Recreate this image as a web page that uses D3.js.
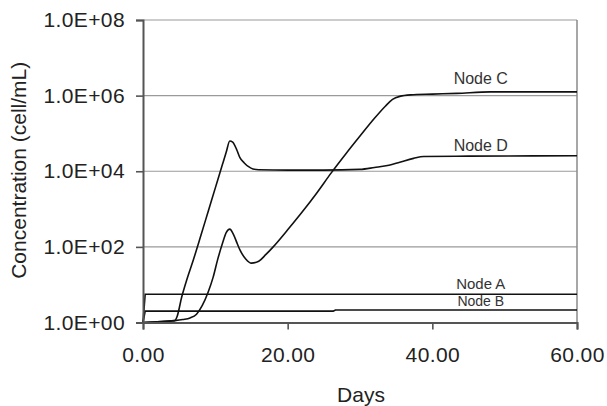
<!DOCTYPE html>
<html>
<head>
<meta charset="utf-8">
<script src="https://cdn.jsdelivr.net/npm/d3@7"></script>
<style>
  body { margin: 0; background: #fff; }
  svg { display: block; font-family: "Liberation Sans", Arial, sans-serif; }
</style>
</head>
<body>
<svg id="chart" width="607" height="406"></svg>
<script>
// ---- data (days, cell/mL) ----
const xTicks = [0, 20, 40, 60];
const yTicks = [1, 1e2, 1e4, 1e6, 1e8];

const nodeADays = [0, 0.3, 60];
const nodeAVals = [1, 5.6, 5.6];

const nodeBDays = [0, 0.3, 26.3, 26.6, 60];
const nodeBVals = [1, 2.0, 2.0, 2.15, 2.15];

const nodeCDays = [0, 4.4, 5.5, 6.5, 7.4, 8.2, 9.0, 9.7, 10.3, 11.0, 11.5, 12.0, 12.5, 13.0, 13.4, 14.2, 15.0, 16.0, 17.0, 18.0, 20, 22, 24, 26, 28, 30, 32, 33.5, 34.5, 35.5, 37, 40, 43.4, 48, 60];
const nodeCLog  = [0, 0.05, 0.08, 0.12, 0.22, 0.45, 0.8, 1.2, 1.65, 2.1, 2.38, 2.47, 2.33, 2.1, 1.92, 1.68, 1.57, 1.62, 1.8, 2.0, 2.45, 2.92, 3.42, 3.95, 4.45, 4.93, 5.4, 5.72, 5.9, 5.98, 6.02, 6.04, 6.06, 6.1, 6.1];

const nodeDDays = [0, 4.4, 4.7, 5.36, 6.0, 7.0, 8.0, 9.0, 10.0, 11.0, 11.5, 12.0, 12.4, 13.0, 13.4, 14.0, 14.6, 15.2, 16.0, 20, 25, 30, 32, 34, 35.5, 37.4, 38.8, 45, 60];
const nodeDLog  = [0, 0.05, 0.15, 0.68, 1.1, 1.68, 2.3, 2.93, 3.56, 4.19, 4.5, 4.8, 4.77, 4.55, 4.36, 4.22, 4.12, 4.06, 4.04, 4.03, 4.03, 4.05, 4.1, 4.16, 4.24, 4.34, 4.39, 4.4, 4.41];

const seriesNames = ["Node A", "Node B", "Node C", "Node D"];
const labelDay = 46.7;

// ---- layout ----
const svg = d3.select("#chart");
const margin = { left: 143, right: 30, top: 20, bottom: 83.5 };
const W = 607, H = 406;
const x = d3.scaleLinear().domain([0, 60]).range([margin.left, W - margin.right]);
const y = d3.scaleLog().domain([1, 1e8]).range([H - margin.bottom, margin.top]);

const toPts = (days, vals) => days.map((d, i) => [d, vals[i]]);
const series = [
  { name: "Node A", pts: toPts(nodeADays, nodeAVals), curve: d3.curveLinear, fs: 15, dy: -5 },
  { name: "Node B", pts: toPts(nodeBDays, nodeBVals), curve: d3.curveLinear, fs: 14, dy: -3.5 },
  { name: "Node C", pts: toPts(nodeCDays, nodeCLog.map(v => Math.pow(10, v))), curve: d3.curveMonotoneX, fs: 16, dy: -8 },
  { name: "Node D", pts: toPts(nodeDDays, nodeDLog.map(v => Math.pow(10, v))), curve: d3.curveMonotoneX, fs: 16, dy: -5 }
];

// gridlines
svg.append("g").selectAll("line").data(yTicks.slice(1)).join("line")
  .attr("x1", x(0)).attr("x2", x(60))
  .attr("y1", d => y(d)).attr("y2", d => y(d))
  .attr("stroke", "#9a9a9a").attr("stroke-width", 1.2);

// right border
svg.append("line")
  .attr("x1", x(60)).attr("x2", x(60)).attr("y1", y(1e8)).attr("y2", y(1))
  .attr("stroke", "#8a8a8a").attr("stroke-width", 1.5);

// series lines
const line = d3.line().x(d => x(d[0])).y(d => y(d[1]));
svg.append("g").selectAll("path").data(series).join("path")
  .attr("fill", "none").attr("stroke", "#111").attr("stroke-width", 1.6)
  .attr("d", s => line.curve(s.curve)(s.pts));

// axes
const fmtE = d => {
  const e = Math.round(Math.log10(d));
  const m = (d / Math.pow(10, e)).toFixed(1);
  return m + "E" + (e < 0 ? "-" : "+") + String(Math.abs(e)).padStart(2, "0");
};
const yAxis = svg.append("g").attr("transform", `translate(${x(0)},0)`)
  .call(d3.axisLeft(y).tickValues(yTicks).tickFormat(fmtE).tickSize(7).tickPadding(11));
const xAxis = svg.append("g").attr("transform", `translate(0,${y(1)})`)
  .call(d3.axisBottom(x).tickValues(xTicks).tickFormat(d3.format(".2f")).tickSize(7).tickPadding(18));

[yAxis, xAxis].forEach(g => {
  g.select(".domain").attr("stroke", "#555").attr("stroke-width", 2);
  g.selectAll(".tick line").attr("stroke", "#555").attr("stroke-width", 1.6);
  g.selectAll("text").attr("fill", "#222").attr("font-size", 21)
    .attr("font-family", "Liberation Sans, Arial, sans-serif").style("letter-spacing", "0.4px");
});

// series labels
svg.append("g").selectAll("text").data(series).join("text")
  .attr("x", x(labelDay))
  .attr("y", s => {
    const last = s.pts[s.pts.length - 1];
    return y(last[1]) + s.dy;
  })
  .attr("text-anchor", "middle").attr("font-size", s => s.fs).attr("fill", "#333")
  .text(s => s.name);

// axis titles
svg.append("text").attr("x", (x(0) + x(60)) / 2 + 1).attr("y", 401.5)
  .attr("text-anchor", "middle").attr("font-size", 21).attr("fill", "#222").text("Days");
svg.append("text").attr("transform", `translate(26,${(y(1) + y(1e8)) / 2 - 1}) rotate(-90)`)
  .attr("text-anchor", "middle").attr("font-size", 21).attr("fill", "#222").text("Concentration (cell/mL)");
</script>
</body>
</html>
